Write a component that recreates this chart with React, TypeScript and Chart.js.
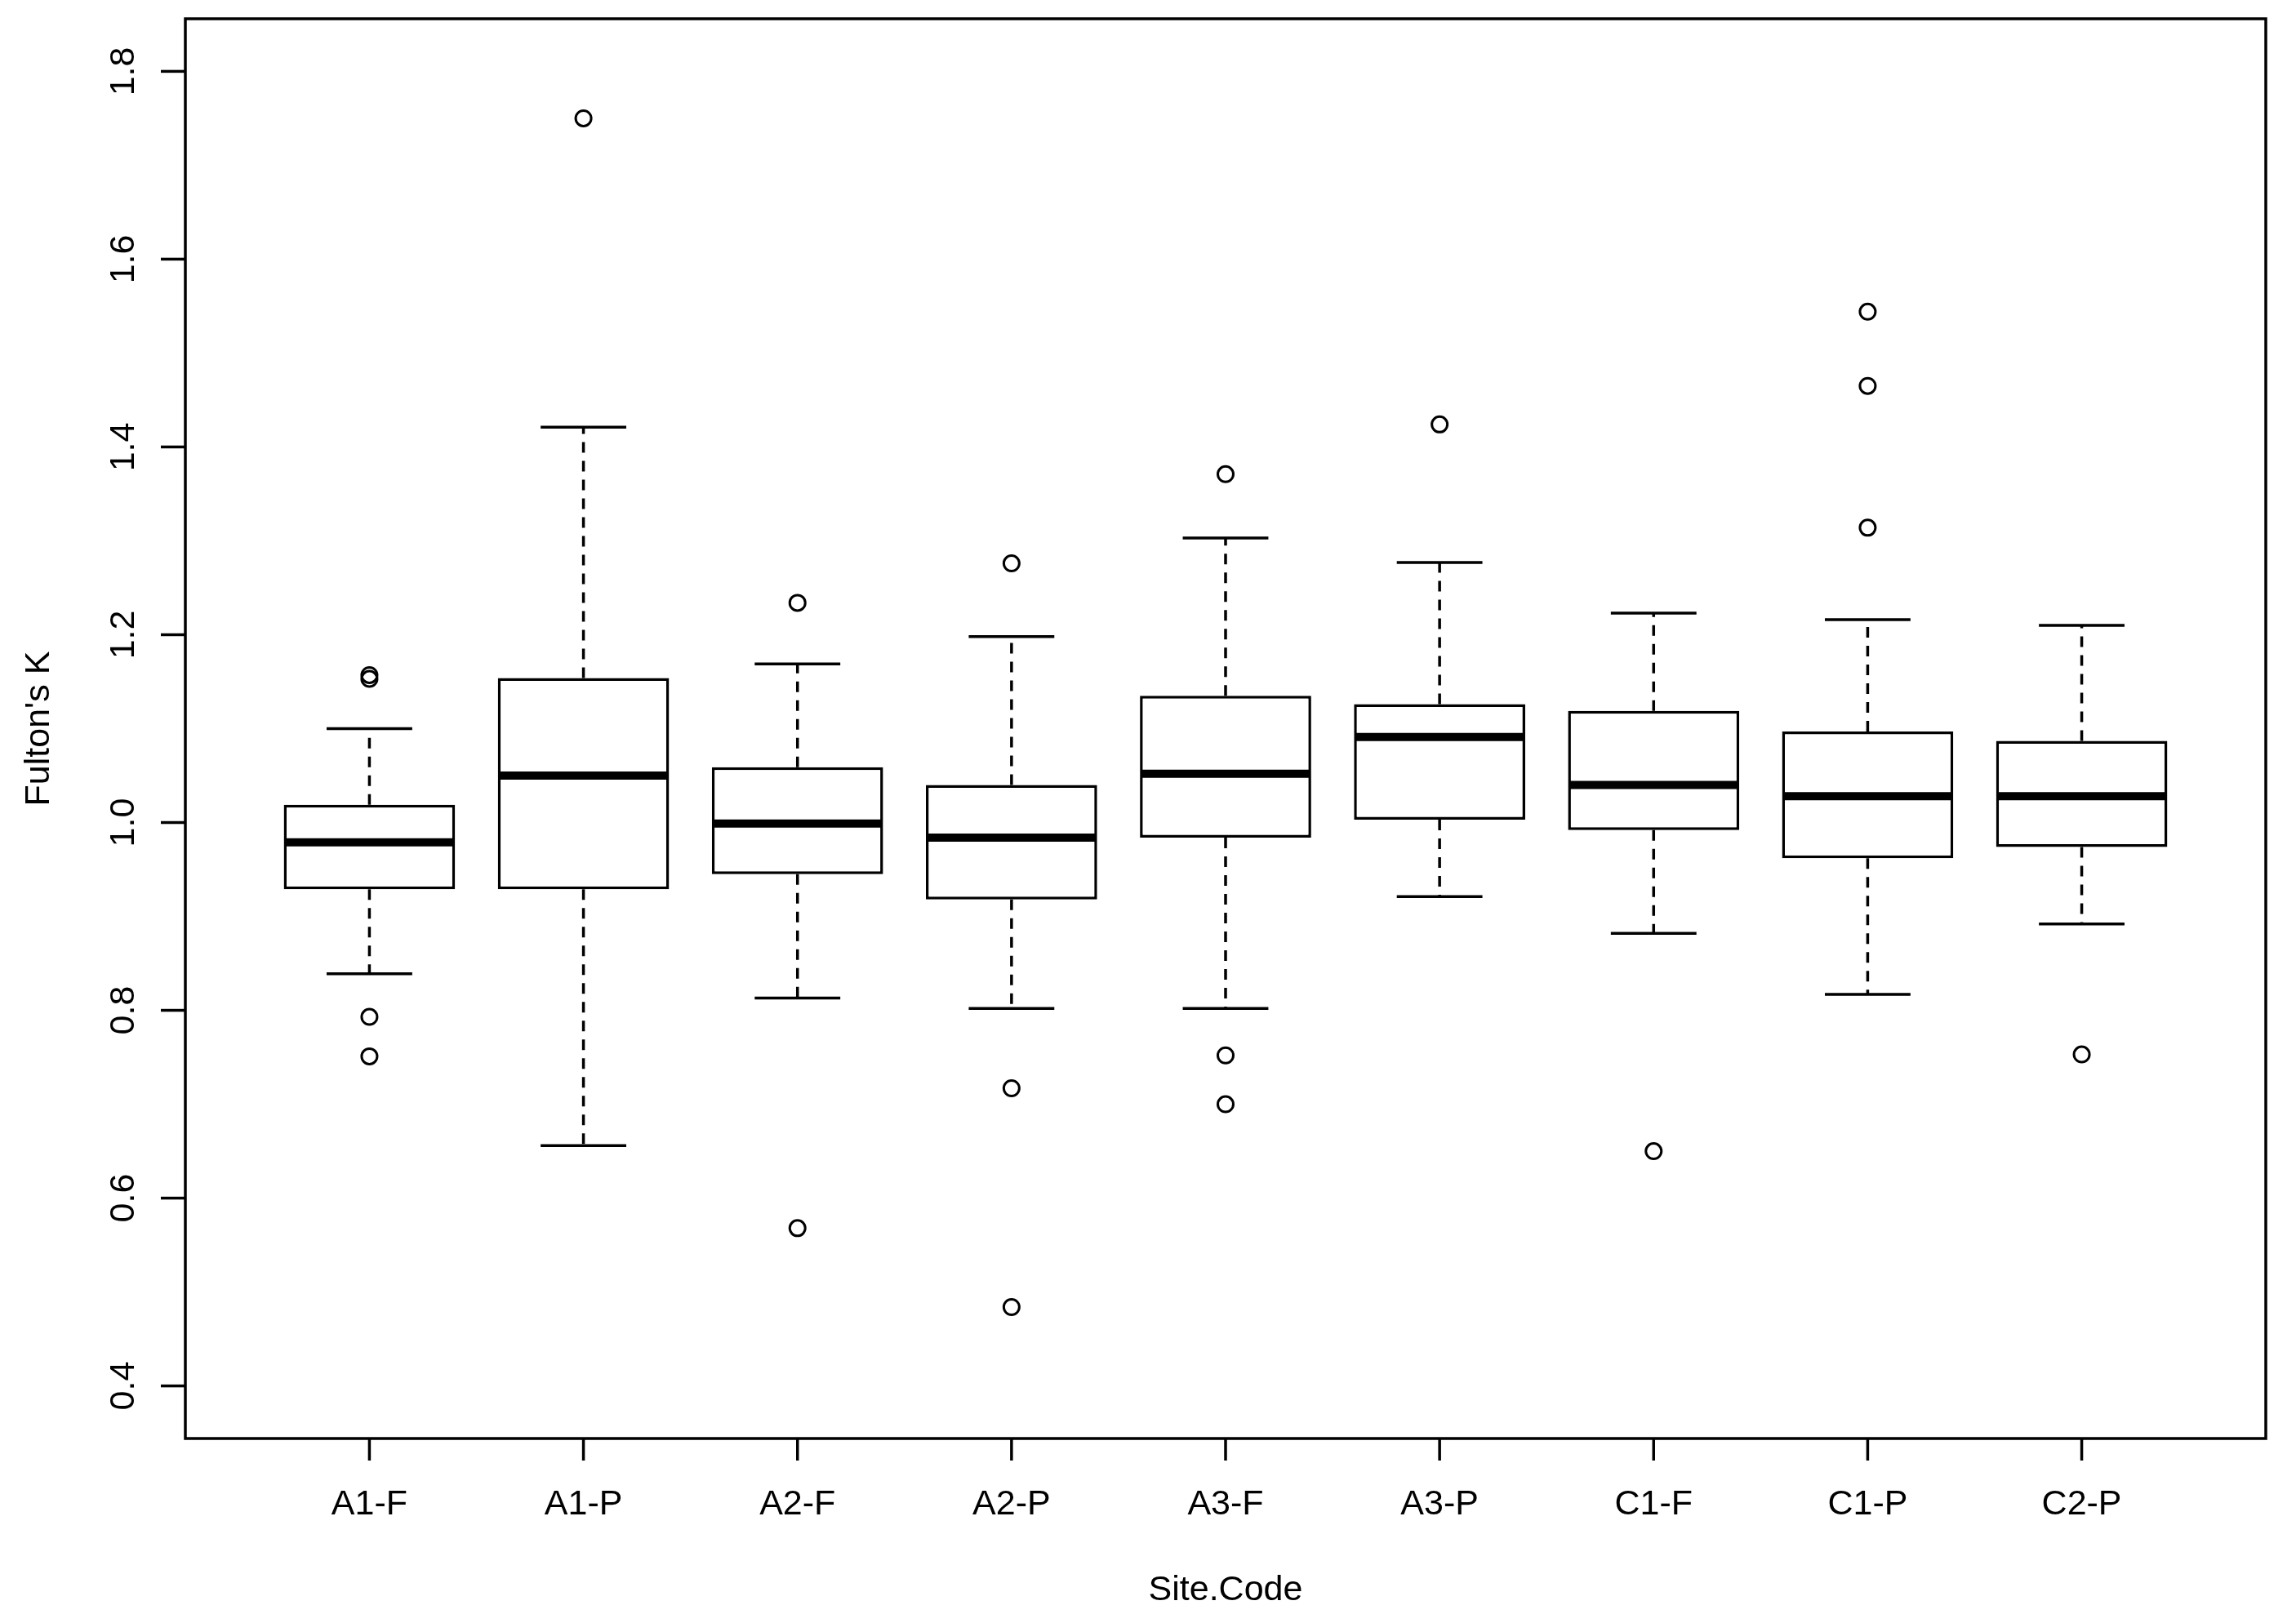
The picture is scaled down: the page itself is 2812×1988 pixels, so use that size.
import React, { useEffect, useRef } from "react";
import { Chart, registerables } from "chart.js";

Chart.register(...registerables);

const categories = ["A1-F", "A1-P", "A2-F", "A2-P", "A3-F", "A3-P", "C1-F", "C1-P", "C2-P"];
const lowerWhisker = [0.839, 0.656, 0.813, 0.802, 0.802, 0.921, 0.882, 0.817, 0.892];
const q1 = [0.929, 0.929, 0.945, 0.918, 0.984, 1.003, 0.992, 0.962, 0.974];
const median = [0.979, 1.05, 0.999, 0.984, 1.052, 1.091, 1.04, 1.028, 1.028];
const q3 = [1.019, 1.154, 1.059, 1.04, 1.135, 1.126, 1.119, 1.097, 1.087];
const upperWhisker = [1.1, 1.421, 1.169, 1.198, 1.303, 1.277, 1.223, 1.216, 1.21];
const outliers: number[][] = [
  [1.153, 1.157, 0.793, 0.751],
  [1.75],
  [1.234, 0.568],
  [1.276, 0.717, 0.484],
  [1.371, 0.752, 0.7],
  [1.424],
  [0.65],
  [1.544, 1.465, 1.314],
  [0.753],
];
const yTicks = [0.4, 0.6, 0.8, 1.0, 1.2, 1.4, 1.6, 1.8];
const yTickLabels = ["0.4", "0.6", "0.8", "1.0", "1.2", "1.4", "1.6", "1.8"];
const xTitle = "Site.Code";
const yTitle = "Fulton's K";

const FONT = '43px "Liberation Sans", Arial, Helvetica, sans-serif';
const LW = 3.5;

const rBoxPlugin = {
  id: "rBoxPlugin",
  beforeDatasetsDraw(chart: any) {
    const ctx = chart.ctx;
    const xs = chart.scales.x;
    const ys = chart.scales.y;
    const meta = chart.getDatasetMeta(0);
    ctx.save();
    ctx.strokeStyle = "#000";
    ctx.lineWidth = LW;
    ctx.lineCap = "butt";
    categories.forEach((_, i) => {
      const bar = meta.data[i];
      const w = bar ? bar.width : 200;
      const cx = xs.getPixelForValue(i + 1);
      const yUp = ys.getPixelForValue(upperWhisker[i]);
      const yQ3 = ys.getPixelForValue(q3[i]);
      const yQ1 = ys.getPixelForValue(q1[i]);
      const yLo = ys.getPixelForValue(lowerWhisker[i]);
      ctx.setLineDash([13, 10]);
      ctx.beginPath();
      ctx.moveTo(cx, yQ3);
      ctx.lineTo(cx, yUp);
      ctx.moveTo(cx, yQ1);
      ctx.lineTo(cx, yLo);
      ctx.stroke();
      ctx.setLineDash([]);
      ctx.beginPath();
      ctx.moveTo(cx - w / 4, yUp);
      ctx.lineTo(cx + w / 4, yUp);
      ctx.moveTo(cx - w / 4, yLo);
      ctx.lineTo(cx + w / 4, yLo);
      ctx.stroke();
    });
    ctx.restore();
  },
  afterDatasetsDraw(chart: any) {
    const ctx = chart.ctx;
    const xs = chart.scales.x;
    const ys = chart.scales.y;
    const area = chart.chartArea;
    const meta = chart.getDatasetMeta(0);
    ctx.save();
    ctx.strokeStyle = "#000";
    ctx.fillStyle = "#000";
    // medians
    ctx.lineCap = "butt";
    ctx.lineWidth = 10;
    categories.forEach((_, i) => {
      const bar = meta.data[i];
      const w = bar ? bar.width : 200;
      const cx = xs.getPixelForValue(i + 1);
      const y = ys.getPixelForValue(median[i]);
      ctx.beginPath();
      ctx.moveTo(cx - w / 2 + 1.5, y);
      ctx.lineTo(cx + w / 2 - 1.5, y);
      ctx.stroke();
    });
    // frame
    ctx.lineWidth = LW;
    ctx.strokeRect(area.left, area.top, area.right - area.left, area.bottom - area.top);
    // x ticks + labels
    ctx.font = FONT;
    ctx.textAlign = "center";
    ctx.textBaseline = "alphabetic";
    categories.forEach((c, i) => {
      const x = xs.getPixelForValue(i + 1);
      ctx.beginPath();
      ctx.moveTo(x, area.bottom);
      ctx.lineTo(x, area.bottom + 27);
      ctx.stroke();
      ctx.fillText(c, x, area.bottom + 93);
    });
    // y ticks + labels
    yTicks.forEach((v, i) => {
      const y = ys.getPixelForValue(v);
      ctx.beginPath();
      ctx.moveTo(area.left, y);
      ctx.lineTo(area.left - 30, y);
      ctx.stroke();
      ctx.save();
      ctx.translate(area.left - 63, y);
      ctx.rotate(-Math.PI / 2);
      ctx.fillText(yTickLabels[i], 0, 0);
      ctx.restore();
    });
    // titles
    ctx.fillText(xTitle, (area.left + area.right) / 2, area.bottom + 198);
    ctx.save();
    ctx.translate(area.left - 167, (area.top + area.bottom) / 2);
    ctx.rotate(-Math.PI / 2);
    ctx.fillText(yTitle, 0, 0);
    ctx.restore();
    ctx.restore();
  },
};

export default function App() {
  const ref = useRef<HTMLCanvasElement | null>(null);
  useEffect(() => {
    if (!ref.current) return;
    const boxData = categories.map((_, i) => ({ x: i + 1, y: [q1[i], q3[i]] }));
    const outlierData: { x: number; y: number }[] = [];
    outliers.forEach((arr, i) => arr.forEach((v) => outlierData.push({ x: i + 1, y: v })));
    const chart = new Chart(ref.current, {
      type: "bar",
      data: {
        datasets: [
          {
            type: "bar",
            data: boxData as any,
            backgroundColor: "#ffffff",
            borderColor: "#000000",
            borderWidth: LW,
            borderSkipped: false,
            barPercentage: 0.8,
            categoryPercentage: 1,
          } as any,
          {
            type: "scatter",
            data: outlierData as any,
            pointStyle: "circle",
            pointRadius: 9.5,
            pointBorderWidth: 3,
            pointBackgroundColor: "rgba(0,0,0,0)",
            pointBorderColor: "#000000",
          } as any,
        ],
      },
      options: {
        responsive: false,
        animation: false,
        events: [],
        layout: { padding: { left: 227, top: 23, right: 37, bottom: 226 } },
        plugins: { legend: { display: false }, tooltip: { enabled: false } },
        scales: {
          x: {
            type: "linear",
            min: 0.14,
            max: 9.86,
            offset: false,
            grace: 0,
            display: false,
            afterBuildTicks: (scale: any) => {
              scale.ticks = categories.map((_, i) => ({ value: i + 1 }));
            },
          },
          y: {
            type: "linear",
            min: 0.344,
            max: 1.856,
            offset: false,
            display: false,
          },
        },
      } as any,
      plugins: [rBoxPlugin],
    });
    return () => chart.destroy();
  }, []);
  return (
    <div style={{ position: "fixed", left: 0, top: 0, width: 2812, height: 1988, background: "#fff" }}>
      <canvas ref={ref} width={2812} height={1988} style={{ width: 2812, height: 1988 }} />
    </div>
  );
}
